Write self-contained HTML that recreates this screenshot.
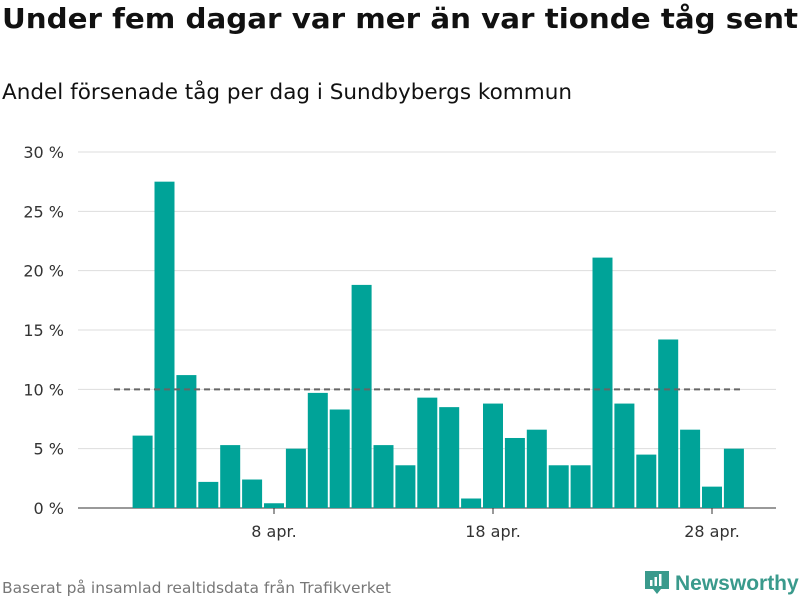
<!DOCTYPE html>
<html><head><meta charset="utf-8"><style>
body{margin:0;width:800px;height:600px;background:#fff;font-family:"DejaVu Sans","Liberation Sans",sans-serif;overflow:hidden;position:relative}
.fit{position:absolute;white-space:nowrap;transform-origin:0 0}
h1{left:2px;top:2px;margin:0;font-size:28px;font-weight:bold;color:#111}
.sub{left:2px;top:80px;font-size:21px;color:#111}
.src{left:2px;top:579px;font-size:15px;color:#777}
.logo{position:absolute;left:645px;top:569px;font-family:"Liberation Sans",sans-serif;font-size:21px;font-weight:bold;color:#3a9a8c;white-space:nowrap}
</style></head><body>
<h1 class="fit" data-fit="796">Under fem dagar var mer än var tionde tåg sent</h1>
<div class="sub fit" data-fit="570">Andel försenade tåg per dag i Sundbybergs kommun</div>
<svg id="chart" width="800" height="600" style="position:absolute;left:0;top:0"></svg>
<div class="src fit" data-fit="389">Baserat på insamlad realtidsdata från Trafikverket</div>
<div class="logo"><svg width="24" height="26" style="vertical-align:-5px;margin-right:6px"><path d="M0 2h24v18h-8l-4 5-4-5H0z" fill="#3a9a8c"/><rect x="5" y="11" width="2.5" height="6" fill="#fff"/><rect x="9.5" y="8" width="2.5" height="9" fill="#fff"/><rect x="14" y="5" width="2.5" height="12" fill="#fff"/></svg>Newsworthy</div>
<script>
const days=[2,3,4,5,6,7,8,9,10,11,12,13,14,15,16,17,18,19,20,21,22,23,24,25,26,27,28,29];
const values=[6.1,27.5,11.2,2.2,5.3,2.4,0.4,5.0,9.7,8.3,18.8,5.3,3.6,9.3,8.5,0.8,8.8,5.9,6.6,3.6,3.6,21.1,8.8,4.5,14.2,6.6,1.8,5.0];
const yTicks=[0,5,10,15,20,25,30];
const xTicks=[8,18,28];
const refValue=10;
document.querySelectorAll('.fit').forEach(e=>{const w=e.getBoundingClientRect().width;e.style.transform='scaleX('+(+e.dataset.fit/w)+')';});
const svg=document.getElementById('chart');
const NS='http://www.w3.org/2000/svg';
const y=v=>508-v*11.867;
const x=d=>274+(d-8)*21.9;
function mk(t,a){const e=document.createElementNS(NS,t);for(const k in a)e.setAttribute(k,a[k]);svg.appendChild(e);return e;}
yTicks.forEach(t=>{
  const l=mk('line',{x1:78,x2:776,y1:y(t),y2:y(t),stroke:t===0?'#333':'#ddd','stroke-width':1});
  
  
  const tx=mk('text',{x:64,y:y(t)+6,'text-anchor':'end','font-size':16,fill:'#333'});
  tx.textContent=t+' %';
  
  
});
days.forEach((d,i)=>{
  const r=mk('rect',{x:x(d)-10,y:y(values[i]),width:20,height:508-y(values[i]),fill:'#00a398'});
  
  
});
const ref=mk('line',{x1:114,x2:743,y1:y(refValue),y2:y(refValue),stroke:'#666','stroke-width':2,'stroke-dasharray':'6,4'});


xTicks.forEach(d=>{
  const l=mk('line',{x1:x(d),x2:x(d),y1:508,y2:514,stroke:'#333'});
  
  
  const tx=mk('text',{x:x(d),y:537,'text-anchor':'middle','font-size':16,fill:'#333'});
  tx.textContent=d+' apr.';
  
  
});
</script>
</body></html>
